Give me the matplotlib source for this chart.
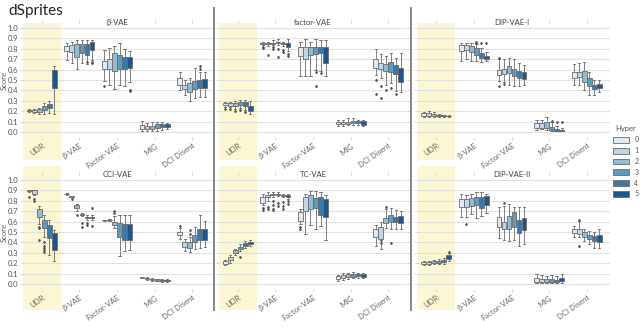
import matplotlib
matplotlib.use("Agg")
import matplotlib.pyplot as plt
from matplotlib.patches import Patch
from matplotlib.lines import Line2D
import seaborn as sns

plt.rcParams['font.family'] = ['Lato', 'DejaVu Sans']

metrics = ["UDR", "β-VAE", "Factor-VAE", "MIG", "DCI Disent"]
hypers = ["0", "1", "2", "3", "4", "5"]
models = ["β-VAE", "factor-VAE", "DIP-VAE-I", "CCI-VAE", "TC-VAE", "DIP-VAE-II"]

# one box = [low whisker, q1, median, q3, high whisker]; 6 boxes (hyper 0..5) per metric
beta_vae = [
    [[0.19, 0.20, 0.205, 0.21, 0.22], [0.18, 0.19, 0.20, 0.21, 0.22], [0.17, 0.19, 0.21, 0.22, 0.23],
     [0.17, 0.21, 0.23, 0.25, 0.28], [0.18, 0.23, 0.25, 0.27, 0.30], [0.17, 0.42, 0.52, 0.60, 0.63]],
    [[0.69, 0.78, 0.81, 0.83, 0.86], [0.66, 0.77, 0.80, 0.84, 0.87], [0.61, 0.72, 0.81, 0.85, 0.88],
     [0.66, 0.76, 0.82, 0.85, 0.88], [0.65, 0.74, 0.81, 0.85, 0.88], [0.69, 0.79, 0.86, 0.87, 0.88]],
    [[0.49, 0.61, 0.64, 0.68, 0.79], [0.45, 0.61, 0.63, 0.70, 0.81], [0.41, 0.59, 0.66, 0.76, 0.83],
     [0.45, 0.61, 0.67, 0.74, 0.86], [0.44, 0.61, 0.67, 0.72, 0.80], [0.48, 0.62, 0.66, 0.72, 0.78]],
    [[0.01, 0.03, 0.05, 0.07, 0.11], [0.01, 0.03, 0.04, 0.06, 0.09], [0.01, 0.03, 0.05, 0.06, 0.10],
     [0.01, 0.04, 0.06, 0.08, 0.10], [0.02, 0.05, 0.06, 0.08, 0.10], [0.03, 0.05, 0.07, 0.08, 0.09]],
    [[0.40, 0.45, 0.49, 0.52, 0.58], [0.36, 0.41, 0.43, 0.45, 0.50], [0.30, 0.38, 0.42, 0.47, 0.52],
     [0.33, 0.41, 0.45, 0.49, 0.62], [0.34, 0.42, 0.45, 0.50, 0.58], [0.34, 0.42, 0.46, 0.51, 0.58]],
]
factor_vae = [
    [[0.24, 0.26, 0.27, 0.28, 0.29], [0.24, 0.25, 0.26, 0.28, 0.29], [0.22, 0.25, 0.27, 0.28, 0.30],
     [0.23, 0.26, 0.27, 0.29, 0.31], [0.21, 0.25, 0.27, 0.29, 0.31], [0.17, 0.20, 0.23, 0.25, 0.30]],
    [[0.84, 0.85, 0.855, 0.86, 0.87], [0.83, 0.85, 0.855, 0.86, 0.87], [0.84, 0.85, 0.855, 0.86, 0.88],
     [0.84, 0.855, 0.86, 0.865, 0.89], [0.83, 0.85, 0.855, 0.86, 0.87], [0.78, 0.82, 0.86, 0.86, 0.89]],
    [[0.54, 0.73, 0.76, 0.82, 0.87], [0.54, 0.70, 0.78, 0.82, 0.89], [0.54, 0.74, 0.80, 0.82, 0.87],
     [0.60, 0.75, 0.78, 0.82, 0.89], [0.59, 0.76, 0.79, 0.82, 0.88], [0.54, 0.66, 0.78, 0.82, 0.88]],
    [[0.06, 0.08, 0.09, 0.10, 0.12], [0.06, 0.08, 0.09, 0.10, 0.12], [0.07, 0.08, 0.09, 0.10, 0.13],
     [0.07, 0.09, 0.10, 0.11, 0.13], [0.07, 0.09, 0.10, 0.11, 0.12], [0.06, 0.07, 0.10, 0.11, 0.12]],
    [[0.55, 0.62, 0.66, 0.70, 0.80], [0.52, 0.61, 0.63, 0.66, 0.75], [0.45, 0.59, 0.61, 0.65, 0.73],
     [0.47, 0.58, 0.62, 0.67, 0.76], [0.39, 0.56, 0.60, 0.64, 0.71], [0.38, 0.48, 0.55, 0.62, 0.76]],
]
dip_vae_i = [
    [[0.14, 0.15, 0.17, 0.18, 0.19], [0.14, 0.15, 0.16, 0.18, 0.20], [0.14, 0.15, 0.16, 0.17, 0.19],
     [0.145, 0.15, 0.155, 0.16, 0.17], [0.145, 0.15, 0.155, 0.16, 0.165], [0.145, 0.15, 0.152, 0.155, 0.16]],
    [[0.68, 0.78, 0.81, 0.84, 0.86], [0.70, 0.79, 0.83, 0.84, 0.86], [0.68, 0.77, 0.80, 0.83, 0.86],
     [0.68, 0.74, 0.77, 0.81, 0.85], [0.67, 0.71, 0.73, 0.76, 0.81], [0.68, 0.70, 0.71, 0.73, 0.77]],
    [[0.49, 0.55, 0.57, 0.60, 0.70], [0.48, 0.56, 0.59, 0.61, 0.70], [0.45, 0.57, 0.60, 0.63, 0.71],
     [0.44, 0.54, 0.58, 0.61, 0.70], [0.44, 0.52, 0.56, 0.59, 0.66], [0.45, 0.51, 0.55, 0.58, 0.64]],
    [[0.02, 0.04, 0.06, 0.09, 0.12], [0.03, 0.04, 0.06, 0.09, 0.12], [0.02, 0.04, 0.07, 0.10, 0.14],
     [0.01, 0.02, 0.03, 0.05, 0.10], [0.005, 0.01, 0.02, 0.03, 0.06], [0.005, 0.01, 0.015, 0.02, 0.04]],
    [[0.45, 0.52, 0.55, 0.58, 0.65], [0.45, 0.53, 0.56, 0.58, 0.66], [0.40, 0.48, 0.55, 0.59, 0.67],
     [0.36, 0.44, 0.48, 0.52, 0.58], [0.36, 0.41, 0.43, 0.45, 0.50], [0.38, 0.42, 0.44, 0.46, 0.50]],
]
cci_vae = [
    [[0.88, 0.89, 0.895, 0.90, 0.90], [0.86, 0.87, 0.89, 0.90, 0.90], [0.58, 0.64, 0.68, 0.72, 0.75],
     [0.45, 0.54, 0.58, 0.62, 0.66], [0.28, 0.44, 0.51, 0.57, 0.62], [0.22, 0.33, 0.41, 0.49, 0.52]],
    [[0.86, 0.865, 0.867, 0.87, 0.875], [0.83, 0.84, 0.842, 0.845, 0.85], [0.70, 0.73, 0.745, 0.76, 0.77],
     [0.65, 0.66, 0.665, 0.67, 0.68], [0.62, 0.635, 0.64, 0.645, 0.66], [0.62, 0.635, 0.64, 0.645, 0.66]],
    [[0.61, 0.615, 0.617, 0.62, 0.62], [0.61, 0.615, 0.617, 0.62, 0.625], [0.54, 0.57, 0.59, 0.60, 0.65],
     [0.27, 0.45, 0.51, 0.59, 0.66], [0.32, 0.42, 0.51, 0.58, 0.66], [0.33, 0.42, 0.51, 0.58, 0.66]],
    [[0.055, 0.06, 0.062, 0.065, 0.07], [0.04, 0.05, 0.055, 0.06, 0.065], [0.03, 0.04, 0.045, 0.05, 0.06],
     [0.025, 0.03, 0.04, 0.045, 0.05], [0.02, 0.03, 0.035, 0.04, 0.05], [0.02, 0.03, 0.035, 0.04, 0.045]],
    [[0.43, 0.47, 0.48, 0.50, 0.54], [0.32, 0.36, 0.38, 0.40, 0.43], [0.31, 0.35, 0.38, 0.40, 0.45],
     [0.34, 0.40, 0.43, 0.47, 0.55], [0.35, 0.42, 0.47, 0.53, 0.66], [0.36, 0.42, 0.49, 0.53, 0.61]],
]
tc_vae = [
    [[0.18, 0.19, 0.20, 0.22, 0.23], [0.20, 0.23, 0.24, 0.26, 0.28], [0.28, 0.30, 0.31, 0.33, 0.34],
     [0.32, 0.34, 0.35, 0.36, 0.38], [0.35, 0.37, 0.38, 0.39, 0.41], [0.37, 0.38, 0.39, 0.40, 0.42]],
    [[0.76, 0.78, 0.81, 0.84, 0.87], [0.80, 0.84, 0.85, 0.86, 0.88], [0.84, 0.855, 0.86, 0.865, 0.88],
     [0.85, 0.86, 0.865, 0.87, 0.88], [0.84, 0.85, 0.855, 0.86, 0.87], [0.82, 0.84, 0.85, 0.86, 0.87]],
    [[0.58, 0.61, 0.65, 0.69, 0.72], [0.48, 0.70, 0.75, 0.84, 0.87], [0.57, 0.72, 0.79, 0.86, 0.89],
     [0.53, 0.73, 0.78, 0.83, 0.89], [0.56, 0.66, 0.80, 0.84, 0.88], [0.42, 0.64, 0.74, 0.82, 0.86]],
    [[0.03, 0.05, 0.06, 0.08, 0.09], [0.04, 0.06, 0.08, 0.09, 0.11], [0.05, 0.07, 0.09, 0.10, 0.11],
     [0.06, 0.07, 0.09, 0.10, 0.12], [0.06, 0.08, 0.09, 0.10, 0.11], [0.06, 0.07, 0.09, 0.10, 0.11]],
    [[0.37, 0.45, 0.50, 0.53, 0.57], [0.34, 0.43, 0.52, 0.55, 0.60], [0.54, 0.59, 0.62, 0.63, 0.72],
     [0.53, 0.60, 0.63, 0.66, 0.73], [0.53, 0.60, 0.62, 0.64, 0.71], [0.53, 0.59, 0.62, 0.65, 0.70]],
]
dip_vae_ii = [
    [[0.18, 0.19, 0.20, 0.21, 0.22], [0.18, 0.19, 0.20, 0.21, 0.22], [0.19, 0.20, 0.21, 0.22, 0.23],
     [0.19, 0.20, 0.21, 0.22, 0.24], [0.19, 0.21, 0.22, 0.23, 0.25], [0.22, 0.24, 0.26, 0.28, 0.30]],
    [[0.64, 0.74, 0.79, 0.82, 0.87], [0.64, 0.74, 0.79, 0.82, 0.86], [0.67, 0.75, 0.79, 0.83, 0.87],
     [0.63, 0.76, 0.81, 0.84, 0.88], [0.65, 0.73, 0.80, 0.84, 0.88], [0.68, 0.76, 0.81, 0.85, 0.87]],
    [[0.44, 0.55, 0.58, 0.64, 0.74], [0.42, 0.53, 0.56, 0.60, 0.75], [0.41, 0.53, 0.57, 0.65, 0.77],
     [0.42, 0.55, 0.62, 0.69, 0.74], [0.37, 0.49, 0.58, 0.62, 0.74], [0.38, 0.52, 0.58, 0.63, 0.74]],
    [[0.01, 0.02, 0.04, 0.06, 0.10], [0.01, 0.02, 0.04, 0.05, 0.09], [0.01, 0.02, 0.04, 0.05, 0.08],
     [0.01, 0.02, 0.03, 0.05, 0.09], [0.01, 0.02, 0.03, 0.04, 0.08], [0.01, 0.03, 0.04, 0.06, 0.10]],
    [[0.45, 0.49, 0.51, 0.53, 0.56], [0.45, 0.48, 0.51, 0.53, 0.61], [0.41, 0.45, 0.47, 0.50, 0.53],
     [0.38, 0.43, 0.45, 0.47, 0.51], [0.35, 0.41, 0.43, 0.46, 0.50], [0.35, 0.40, 0.43, 0.47, 0.53]],
]

# outliers: (metric index, hyper index, value)
beta_vae_out = [(1, 4, 0.67), (1, 5, 0.67), (1, 5, 0.66), (2, 0, 0.44), (2, 5, 0.40), (2, 5, 0.39),
                (4, 4, 0.63), (4, 4, 0.61)]
factor_vae_out = [(0, 0, 0.22), (0, 1, 0.22), (0, 2, 0.20), (0, 3, 0.21), (0, 4, 0.19),
                  (1, 0, 0.82), (1, 0, 0.81), (1, 1, 0.74), (1, 2, 0.80), (1, 2, 0.82), (1, 3, 0.72),
                  (1, 3, 0.80), (1, 4, 0.79), (1, 4, 0.77), (1, 5, 0.75), (1, 5, 0.73), (2, 3, 0.58),
                  (2, 3, 0.44), (2, 4, 0.57), (4, 0, 0.50), (4, 0, 0.37), (4, 1, 0.33), (4, 1, 0.44),
                  (4, 2, 0.40), (4, 3, 0.42), (4, 4, 0.37)]
dip_vae_i_out = [(1, 3, 0.86), (1, 3, 0.87), (1, 4, 0.86), (1, 5, 0.86), (2, 0, 0.44), (2, 1, 0.46),
                 (2, 0, 0.71), (3, 3, 0.11), (3, 4, 0.10), (3, 5, 0.10)]
cci_vae_out = [(0, 0, 0.84), (0, 1, 0.82), (0, 1, 0.80), (0, 2, 0.55), (0, 2, 0.54), (0, 2, 0.42),
               (0, 3, 0.40), (0, 3, 0.37), (0, 3, 0.35), (0, 3, 0.33), (0, 3, 0.31), (1, 1, 0.82),
               (1, 2, 0.66), (1, 3, 0.59), (1, 3, 0.55), (1, 4, 0.57), (1, 4, 0.59), (1, 5, 0.56),
               (1, 5, 0.73), (2, 2, 0.68), (2, 2, 0.70), (4, 0, 0.56), (4, 2, 0.48), (4, 2, 0.52)]
tc_vae_out = [(0, 3, 0.26), (1, 0, 0.73), (1, 0, 0.71), (1, 1, 0.74), (1, 1, 0.72), (1, 2, 0.80),
              (1, 2, 0.76), (1, 2, 0.72), (1, 2, 0.71), (1, 3, 0.78), (1, 3, 0.75), (1, 4, 0.79),
              (1, 4, 0.75), (1, 4, 0.72), (1, 5, 0.80), (1, 5, 0.77), (2, 0, 0.55), (2, 0, 0.53),
              (4, 1, 0.42), (4, 1, 0.39), (4, 2, 0.74), (4, 3, 0.39)]
dip_vae_ii_out = [(1, 1, 0.58), (2, 1, 0.78), (4, 1, 0.37), (4, 1, 0.62), (0, 5, 0.31)]

panel_data = [beta_vae, factor_vae, dip_vae_i, cci_vae, tc_vae, dip_vae_ii]
panel_out = [beta_vae_out, factor_vae_out, dip_vae_i_out, cci_vae_out, tc_vae_out, dip_vae_ii_out]

colors = [sns.desaturate(c, 0.75) for c in sns.color_palette("Blues", 6)]
edge = "#6b6b6b"
yellow = "#fbf6d3"

W, H = 640, 328
fig = plt.figure(figsize=(6.4, 3.28), dpi=100)

lefts = [23, 219, 417.5]
tops = [22.8, 174.8]
aw, ah = 188, 114.4

for k in range(6):
    r, c = divmod(k, 3)
    ax = fig.add_axes([lefts[c] / W, 1 - (tops[r] + ah) / H, aw / W, ah / H])
    ax.set_xlim(-0.5, 4.5)
    ax.set_ylim(-0.05, 1.05)
    # highlighted UDR column, runs down over the tick labels
    ybot = -0.2 if r == 0 else -0.18
    ytop = 1.0 if r == 0 else 1.08
    ax.axvspan(-0.5, 0.5, ymin=ybot, ymax=ytop, color=yellow, lw=0, clip_on=False, zorder=0)
    ax.set_yticks([i / 10 for i in range(11)])
    ax.grid(axis='y', color='#e2e2e2', lw=0.8, zorder=1)
    ax.set_axisbelow(True)
    for s in ax.spines.values():
        s.set_visible(False)
    ax.patch.set_alpha(0)

    stats, pos, cols = [], [], []
    for m in range(5):
        for h in range(6):
            lo, q1, med, q3, hi = panel_data[k][m][h]
            fl = [v for (mi, hi_, v) in panel_out[k] if mi == m and hi_ == h]
            stats.append(dict(whislo=lo, q1=q1, med=med, q3=q3, whishi=hi, fliers=fl))
            pos.append(m - 0.4 + 0.8 / 6 * (h + 0.5))
            cols.append(colors[h])
    bp = ax.bxp(stats, positions=pos, widths=0.128, patch_artist=True, manage_ticks=False,
                boxprops=dict(edgecolor=edge, lw=0.6),
                medianprops=dict(color=edge, lw=0.6),
                whiskerprops=dict(color=edge, lw=0.6),
                capprops=dict(color=edge, lw=0.6),
                flierprops=dict(marker='d', markersize=1.0, markerfacecolor='#555555',
                                markeredgecolor='#555555', lw=0),
                capwidths=0.06)
    for patch, col in zip(bp['boxes'], cols):
        patch.set_facecolor(col)
        patch.set_zorder(3)

    ax.set_xticks(range(5))
    ax.set_xticklabels(metrics, rotation=35, ha='right', rotation_mode='anchor',
                       fontsize=5.5, color='#666666')
    ax.tick_params(axis='x', length=2, width=0.5, color='#cccccc', top=True, pad=1.5)
    ax.tick_params(axis='y', length=2, width=0.5, color='#cccccc', right=True,
                   labelsize=5.5, labelcolor='#555555', pad=1.5)
    if c == 0:
        ax.set_ylabel("Score", fontsize=5.5, color='#555555')
        ax.yaxis.set_label_coords(-15 / aw, 0.5)
    else:
        ax.set_yticklabels([])
    ax.text(0.5, 1.0, models[k], transform=ax.transAxes, ha='center', va='center',
            fontsize=5.5, color='#444444')

# grey separators between the columns
for x in [214, 411]:
    fig.add_artist(Line2D([x / W, x / W], [1 - 8 / H, 1 - 310 / H], color='#888888', lw=1.4))

fig.text(8 / W, 1 - 11 / H, "dSprites", fontsize=11, color='#222222', va='center', ha='left')

handles = [Patch(facecolor=col, edgecolor=edge, lw=0.6) for col in colors]
leg = fig.legend(handles, hypers, title="Hyper", loc='upper left', bbox_to_anchor=(610 / W, 1 - 122 / H),
                 frameon=False, fontsize=5, title_fontsize=5.5, handlelength=2.2, handleheight=0.9,
                 labelspacing=0.55, handletextpad=0.8, borderpad=0)
leg.get_title().set_color('#555555')
for t in leg.get_texts():
    t.set_color('#555555')

fig.savefig("out.png", dpi=100)
